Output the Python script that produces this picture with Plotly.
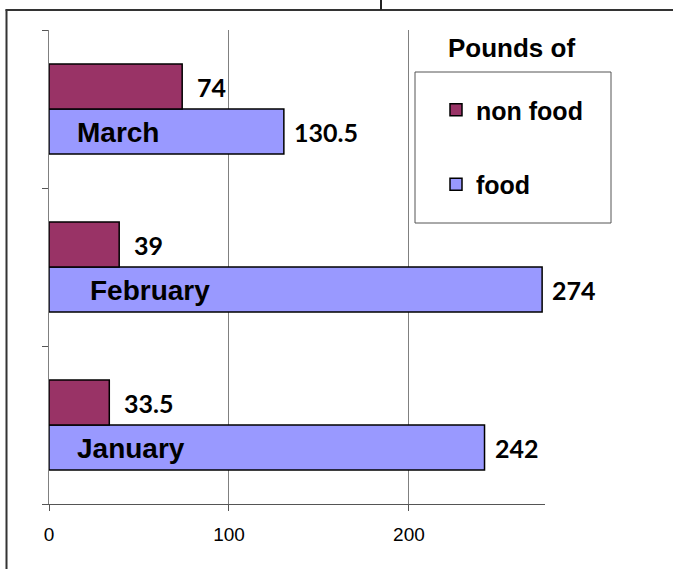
import plotly.graph_objects as go

# ---- data ----
months = ["January", "February", "March"]
non_food = [33.5, 39, 74]
food = [242, 274, 130.5]
x_ticks = [0, 100, 200]
legend_title = "Pounds of"

# ---- layout helpers (pixels) ----
W, H = 673, 569
L, R, T, B = 49, 545, 30, 504
def px_x(p):
    return (p - L) / (R - L)
def px_y(p):
    return (B - p) / (B - T)

NONFOOD_COLOR = "#993366"
FOOD_COLOR = "#9999FF"

fig = go.Figure()
fig.add_trace(go.Bar(
    y=months, x=food, orientation="h", name="food",
    marker=dict(color=FOOD_COLOR, line=dict(color="black", width=1.5)),
    legendrank=2, legendgroup="b", hoverinfo="skip",
))
fig.add_trace(go.Bar(
    y=months, x=non_food, orientation="h", name="non food",
    marker=dict(color=NONFOOD_COLOR, line=dict(color="black", width=1.5)),
    legendrank=1, legendgroup="a", hoverinfo="skip",
))

annotations = []
value_font = dict(family="Lato", size=25, color="black", weight="bold")
cat_font = dict(family="Liberation Sans", size=28, color="black", weight="bold")
label_shift = [26, 39, 26]
for i, m in enumerate(months):
    # value labels
    annotations.append(dict(x=non_food[i], y=m, xref="x", yref="y", text=f"{non_food[i]:g}",
                            showarrow=False, xanchor="left", xshift=13, yshift=22.5, font=value_font))
    annotations.append(dict(x=food[i], y=m, xref="x", yref="y", text=f"{food[i]:g}",
                            showarrow=False, xanchor="left", xshift=8, yshift=-22.5, font=value_font))
    # category labels inside food bars
    annotations.append(dict(x=0, y=m, xref="x", yref="y", text=m, showarrow=False,
                            xanchor="left", xshift=label_shift[i], yshift=-23, font=cat_font))

annotations.append(dict(x=px_x(511), y=px_y(48), xref="paper", yref="paper", text=legend_title,
                        showarrow=False, xanchor="center", yanchor="middle",
                        font=dict(family="Liberation Sans", size=26, color="black", weight="bold")))

shapes = [
    # outer frame (left and top edges; the rest lies beyond the picture)
    dict(type="line", xref="paper", yref="paper", x0=px_x(6.5), x1=px_x(6.5), y0=px_y(569), y1=px_y(9.5),
         line=dict(color="#333333", width=2)),
    dict(type="line", xref="paper", yref="paper", x0=px_x(5.5), x1=px_x(673), y0=px_y(10), y1=px_y(10),
         line=dict(color="#333333", width=2)),
    # small line at top
    dict(type="line", xref="paper", yref="paper", x0=px_x(381), x1=px_x(381), y0=px_y(10), y1=px_y(0),
         line=dict(color="#222222", width=2)),
    # legend box
    dict(type="rect", xref="paper", yref="paper", x0=px_x(415), x1=px_x(611), y0=px_y(223), y1=px_y(72),
         line=dict(color="#555555", width=1), fillcolor="white", layer="above"),
]

fig.update_layout(
    width=W, height=H, autosize=False,
    margin=dict(l=L, r=W - R, t=T, b=H - B, pad=0),
    paper_bgcolor="white", plot_bgcolor="white",
    barmode="group", bargap=0.43, bargroupgap=0,
    showlegend=True,
    legend=dict(x=px_x(436), y=px_y(87), xanchor="left", yanchor="top",
                bgcolor="rgba(0,0,0,0)", borderwidth=0,
                font=dict(family="Liberation Sans", size=25, color="black", weight="bold"),
                traceorder="grouped", tracegroupgap=39),
    annotations=annotations,
    shapes=shapes,
    xaxis=dict(range=[0, 275.6], tickvals=x_ticks, ticktext=[str(v) for v in x_ticks],
               showgrid=True, gridcolor="#808080", gridwidth=1, zeroline=False,
               showline=True, linecolor="#555555", linewidth=1,
               ticks="outside", ticklen=6, tickcolor="#555555",
               tickfont=dict(family="Liberation Sans", size=19, color="black"),
               ticklabelstandoff=7, fixedrange=True),
    yaxis=dict(type="category", categoryorder="array", categoryarray=months,
               showticklabels=False, showgrid=False, zeroline=False,
               showline=True, linecolor="#808080", linewidth=1,
               ticks="outside", ticklen=6, tickcolor="#555555", tickson="boundaries",
               fixedrange=True),
)

fig.write_html("out.html", config={"displayModeBar": False},
               post_script="document.body.style.margin='0';document.body.style.overflow='hidden';"
                           "document.documentElement.style.overflow='hidden';")
